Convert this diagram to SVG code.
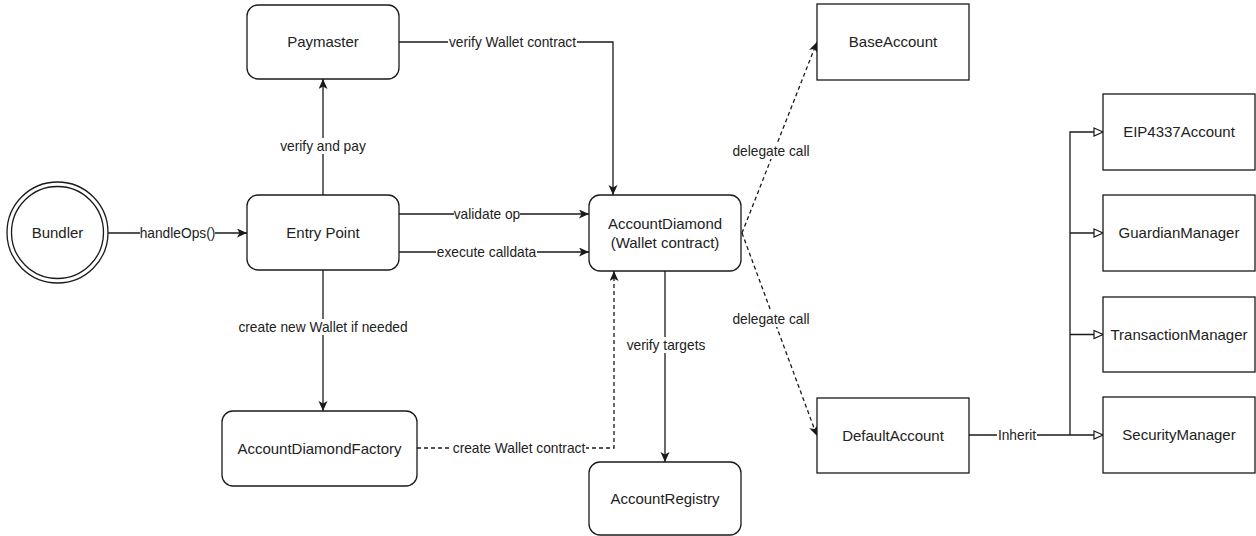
<svg xmlns="http://www.w3.org/2000/svg" width="1256" height="536" viewBox="0 0 1256 536">
<style>
.box{fill:#fff;stroke:#1a1a1a;stroke-width:1.3}
.t{font-family:"Liberation Sans",Arial,sans-serif;font-size:15px;fill:#222;text-anchor:middle}
.lt{font-family:"Liberation Sans",Arial,sans-serif;font-size:13.75px;fill:#222;text-anchor:middle}
.e{fill:none;stroke:#1a1a1a;stroke-width:1.3}
.d{stroke-dasharray:4 3}
.bg{fill:#fff}
</style>
<defs>
<marker id="arr" markerUnits="userSpaceOnUse" markerWidth="12" markerHeight="10" refX="10" refY="4.5" orient="auto">
<path d="M0,0 L10,4.5 L0,9 L2.5,4.5 Z" fill="#1a1a1a"/>
</marker>
<marker id="tri" markerUnits="userSpaceOnUse" markerWidth="12" markerHeight="11" refX="10" refY="5" orient="auto">
<path d="M1,1 L10,5 L1,9 Z" fill="#fff" stroke="#1a1a1a" stroke-width="1.2"/>
</marker>
</defs>
<rect width="1256" height="536" fill="#fff"/>
<g id="connectors">
<path class="e" d="M108,233 L247,233" marker-end="url(#arr)"/>
<path class="e" d="M323,195 L323,79" marker-end="url(#arr)"/>
<path class="e" d="M399,42 L613,42 L613,195" marker-end="url(#arr)"/>
<path class="e" d="M399,214 L589,214" marker-end="url(#arr)"/>
<path class="e" d="M399,252 L589,252" marker-end="url(#arr)"/>
<path class="e" d="M323,270 L323,411" marker-end="url(#arr)"/>
<path class="e d" d="M417,448 L614,448 L614,271" marker-end="url(#arr)"/>
<path class="e" d="M665,271 L665,462" marker-end="url(#arr)"/>
<path class="e d" d="M742,233 L817,42" marker-end="url(#arr)"/>
<path class="e d" d="M742,233 L817,436" marker-end="url(#arr)"/>
<path class="e" d="M969,435 L1070,435 L1103,435" marker-end="url(#tri)"/>
<path class="e" d="M1070,435 L1070,132 L1103,132" marker-end="url(#tri)"/>
<path class="e" d="M1070,233 L1103,233" marker-end="url(#tri)"/>
<path class="e" d="M1070,334.5 L1103,334.5" marker-end="url(#tri)"/>
<g id="labels">
<rect class="bg" x="140" y="225" width="75" height="16"/>
<text class="lt" x="177.5" y="238">handleOps()</text>
<rect class="bg" x="280" y="138" width="87" height="16"/>
<text class="lt" x="323" y="151">verify and pay</text>
<rect class="bg" x="448" y="34" width="129" height="16"/>
<text class="lt" x="512.5" y="47">verify Wallet contract</text>
<rect class="bg" x="454" y="206" width="66" height="16"/>
<text class="lt" x="487" y="219">validate op</text>
<rect class="bg" x="436" y="244" width="101" height="16"/>
<text class="lt" x="486.5" y="257">execute calldata</text>
<rect class="bg" x="237" y="319" width="172" height="16"/>
<text class="lt" x="323" y="332">create new Wallet if needed</text>
<rect class="bg" x="452" y="440" width="134" height="16"/>
<text class="lt" x="519" y="453">create Wallet contract</text>
<rect class="bg" x="626" y="337" width="80" height="16"/>
<text class="lt" x="666" y="350">verify targets</text>
<rect class="bg" x="732" y="143" width="78" height="16"/>
<text class="lt" x="771" y="156">delegate call</text>
<rect class="bg" x="732" y="311" width="78" height="16"/>
<text class="lt" x="771" y="324">delegate call</text>
<rect class="bg" x="997" y="427" width="40" height="16"/>
<text class="lt" x="1017" y="440">Inherit</text>
</g>
</g>
<g id="bundler">
<circle class="box" cx="57.5" cy="232.5" r="50.5"/>
<circle class="box" cx="57.5" cy="232.5" r="46"/>
<text class="t" x="57.5" y="238">Bundler</text>
</g>
<g id="paymaster">
<rect class="box" x="247" y="5" width="152" height="74" rx="11"/>
<text class="t" x="323" y="47">Paymaster</text>
</g>
<g id="entrypoint">
<rect class="box" x="247" y="195" width="152" height="75" rx="11"/>
<text class="t" x="323" y="238">Entry Point</text>
</g>
<g id="accountdiamond">
<rect class="box" x="589" y="195" width="152" height="76" rx="11"/>
<text class="t" x="665" y="229">AccountDiamond</text>
<text class="t" x="665" y="248">(Wallet contract)</text>
</g>
<g id="factory">
<rect class="box" x="222" y="411" width="195" height="75" rx="11"/>
<text class="t" x="319.5" y="454">AccountDiamondFactory</text>
</g>
<g id="registry">
<rect class="box" x="589" y="462" width="152" height="73" rx="11"/>
<text class="t" x="665" y="504">AccountRegistry</text>
</g>
<g id="baseaccount">
<rect class="box" x="817" y="4" width="152" height="76"/>
<text class="t" x="893" y="47">BaseAccount</text>
</g>
<g id="defaultaccount">
<rect class="box" x="817" y="398" width="152" height="75"/>
<text class="t" x="893" y="441">DefaultAccount</text>
</g>
<g id="eip4337account">
<rect class="box" x="1103" y="94" width="152" height="76"/>
<text class="t" x="1179" y="137">EIP4337Account</text>
</g>
<g id="guardianmanager">
<rect class="box" x="1103" y="195" width="152" height="76"/>
<text class="t" x="1179" y="238">GuardianManager</text>
</g>
<g id="transactionmanager">
<rect class="box" x="1103" y="297" width="152" height="75"/>
<text class="t" x="1179" y="340">TransactionManager</text>
</g>
<g id="securitymanager">
<rect class="box" x="1103" y="397" width="152" height="76"/>
<text class="t" x="1179" y="440">SecurityManager</text>
</g>
</svg>
